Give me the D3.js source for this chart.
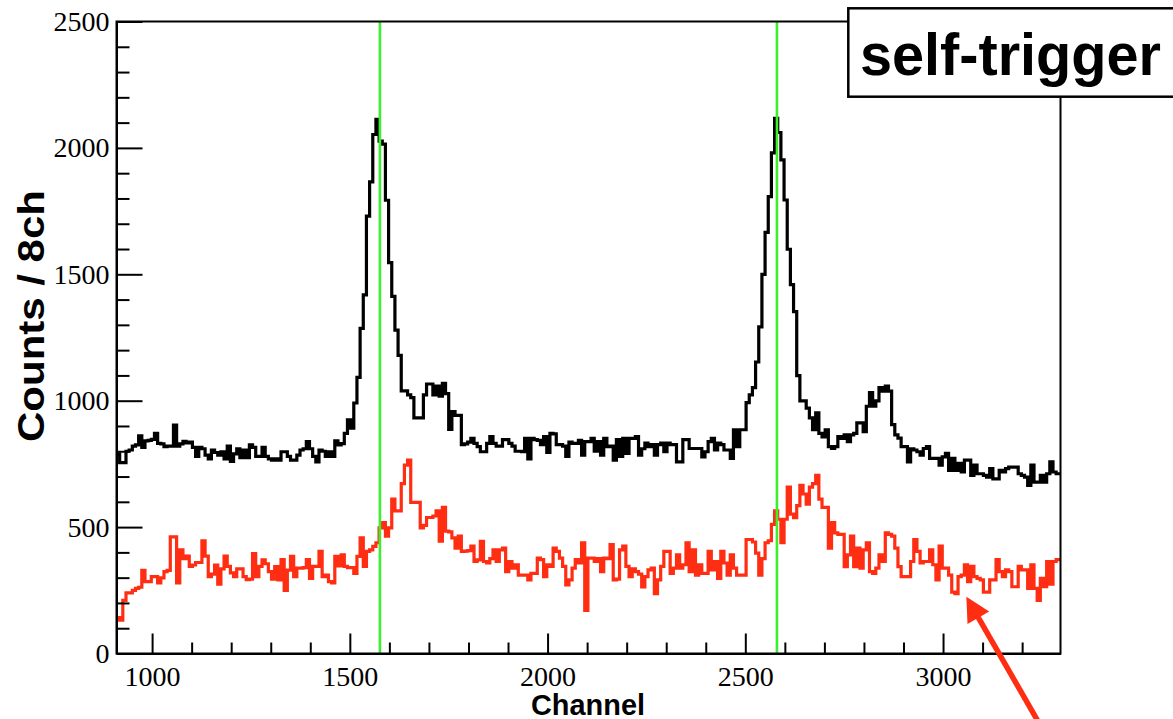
<!DOCTYPE html>
<html>
<head>
<meta charset="utf-8">
<script src="https://cdn.jsdelivr.net/npm/d3@7"></script>
<style>
  html, body { margin: 0; padding: 0; background: #ffffff; }
  svg { display: block; }
</style>
</head>
<body>
<svg id="chart" width="1173" height="719"></svg>
<script>
// Histogram binning: 8 channels per bin, first bin starts at channel 910
const binStart = 910;
const binWidth = 8;

// Black spectrum, counts per 8-channel bin
const blackCounts = [
  790,755,755,800,805,820,825,861,815,841, 843,847,871,831,829,818,820,820,903,820,
  829,839,833,836,815,780,815,810,785,770, 805,795,785,798,770,820,760,790,810,775,
  805,775,825,815,780,780,815,780,770,765,
  770,765,798,798,780,765,765,785,805,810, 838,810,780,758,805,800,780,798,780,841,
  825,830,871,924,891,991,1092,1286,1419,1730, 1866,2053,2113,2027,2015,1793,1546,1413,1279,1179,
  1039,1039,1023,1012,932,932,932,1023,1066,1066,
  1023,1058,1018,1069,1028,886,957,942,942,826, 829,836,851,831,818,798,798,831,858,831,
  820,820,846,846,831,820,800,800,798,851, 770,851,846,843,826,858,795,871,869,826,
  826,820,780,836,831,831,843,785,838,838,
  851,800,838,785,851,818,820,765,846,780, 851,792,851,851,858,785,810,832,818,826,
  785,826,832,798,832,826,826,758,758,846, 846,811,811,811,811,778,798,838,851,805,
  832,826,805,805,772,885,818,885,885,992,
  1023,1052,1153,1292,1500,1666,1807,1980,2117,2061, 1953,1794,1599,1459,1352,1099,999,999,971,932,
  885,952,871,857,885,818,811,818,858,851, 865,838,865,871,912,912,878,978,1032,978,
  999,1052,1038,1058,1038,905,865,852,818,818,
  758,810,805,798,785,811,818,772,772,772, 745,778,792,724,772,724,752,718,765,765,
  705,745,711,711,705,698,731,691,691,724, 718,731,737,737,737,711,705,698,665,745,
  678,678,705,678,711,758,718,711,711
];

// Red (self-trigger) spectrum, counts per 8-channel bin
const redCounts = [
  142,132,210,240,240,250,258,262,329,284, 284,304,304,279,299,324,329,461,461,279,
  410,375,385,345,350,360,360,446,385,304, 314,350,274,335,385,345,319,304,335,335,
  304,292,294,395,304,345,370,355,324,294,
  344,291,371,250,330,384,304,338,338,340, 371,297,345,345,404,304,310,284,279,384,
  347,390,345,340,340,317,384,457,345,404, 410,424,438,497,518,464,497,611,564,564,
  672,745,765,598,598,598,497,507,538,538,
  544,564,444,578,484,481,457,417,464,404, 405,407,425,364,370,444,364,358,375,410,
  364,410,417,324,364,338,351,310,310,310, 291,317,317,377,371,304,351,345,417,404,
  377,345,271,291,338,371,358,438,170,377,
  377,364,375,324,377,375,431,291,294,410, 425,345,304,335,324,314,263,304,331,338,
  237,291,345,404,404,317,338,390,338,351, 438,324,410,310,351,317,317,404,331,364,
  297,404,358,310,390,338,310,310,310,451,
  451,441,397,310,375,438,446,511,564,531, 438,531,658,551,537,585,665,631,591,658,
  672,705,611,578,578,417,518,477,471,471, 344,390,464,344,417,338,410,438,324,317,
  338,390,364,477,471,464,417,344,304,304,
  304,364,451,404,358,364,364,410,351,291, 425,338,338,310,243,237,304,310,351,284,
  345,304,297,291,243,243,291,291,371,324, 304,331,324,264,264,345,331,331,258,351,
  258,210,297,264,364,274,364,371,371
];

// Vertical marker channels (green lines)
const markerChannels = [1576, 2580];

// Axis ticks
const xMajorTicks = [1000, 1500, 2000, 2500, 3000];
const xMinorTicks = d3.range(1000, 3297, 100).filter(v => v % 500 !== 0);
const yMajorTicks = [0, 500, 1000, 1500, 2000, 2500];
const yMinorTicks = d3.range(0, 2501, 100).filter(v => v % 500 !== 0);

// Texts
const xTitle = "Channel";
const yTitle = "Counts / 8ch";
const boxLabel = "self-trigger";

// Arrow annotation pointing at the red spectrum (channel, counts)
const arrowTip = [3059, 224];

const svg = d3.select("#chart");

const x = d3.scaleLinear().domain([910, 3297]).range([116.5, 1060.5]);
const y = d3.scaleLinear().domain([0, 2500]).range([653.5, 21.5]);

const plotLeft = x.range()[0], plotRight = x.range()[1];
const plotTop = y.range()[1], plotBottom = y.range()[0];

svg.append("defs").append("clipPath").attr("id", "plotClip")
  .append("rect")
  .attr("x", plotLeft).attr("y", plotTop)
  .attr("width", plotRight - plotLeft).attr("height", plotBottom - plotTop);

// Step outline of a histogram
function stepPoints(counts) {
  const pts = counts.map((c, i) => [binStart + i * binWidth, c]);
  pts.push([binStart + counts.length * binWidth, counts[counts.length - 1]]);
  return pts;
}
const stepLine = d3.line()
  .x(d => x(d[0]))
  .y(d => y(d[1]))
  .curve(d3.curveStepAfter);

const plot = svg.append("g").attr("clip-path", "url(#plotClip)");

plot.append("path")
  .datum(stepPoints(blackCounts))
  .attr("d", stepLine)
  .attr("fill", "none")
  .attr("stroke", "#000000")
  .attr("stroke-width", 3.2)
  .attr("stroke-linejoin", "miter");

plot.append("path")
  .datum(stepPoints(redCounts))
  .attr("d", stepLine)
  .attr("fill", "none")
  .attr("stroke", "#ff2d12")
  .attr("stroke-width", 3.2)
  .attr("stroke-linejoin", "miter");

// Green markers
plot.selectAll("line.marker")
  .data(markerChannels)
  .enter().append("line")
  .attr("class", "marker")
  .attr("x1", d => x(d)).attr("x2", d => x(d))
  .attr("y1", plotTop).attr("y2", plotBottom)
  .attr("stroke", "#3cef2c")
  .attr("stroke-width", 2.6);

// Axes
const labelFont = "'Liberation Serif', 'Times New Roman', serif";
const plain = d3.format("d");

svg.append("g")
  .attr("transform", `translate(${plotLeft},0)`)
  .call(d3.axisLeft(y).tickValues(yMajorTicks).tickFormat(plain)
    .tickSize(-26).tickSizeOuter(0).tickPadding(7));
svg.append("g")
  .attr("transform", `translate(${plotLeft},0)`)
  .call(d3.axisLeft(y).tickValues(yMinorTicks).tickSize(-13).tickSizeOuter(0).tickFormat(""))
  .call(g => g.select(".domain").remove());

svg.append("g")
  .attr("transform", `translate(0,${plotBottom})`)
  .call(d3.axisBottom(x).tickValues(xMajorTicks).tickFormat(plain)
    .tickSize(-20).tickSizeOuter(0).tickPadding(13));
svg.append("g")
  .attr("transform", `translate(0,${plotBottom})`)
  .call(d3.axisBottom(x).tickValues(xMinorTicks).tickSize(-11).tickSizeOuter(0).tickFormat(""))
  .call(g => g.select(".domain").remove());

svg.selectAll(".tick line").attr("stroke", "#000").attr("stroke-width", 2);
svg.selectAll(".domain").attr("stroke", "#000").attr("stroke-width", 2);
svg.selectAll(".tick text")
  .attr("font-family", labelFont)
  .attr("font-size", 28)
  .attr("fill", "#000");

// Frame
svg.append("rect")
  .attr("x", plotLeft).attr("y", plotTop)
  .attr("width", plotRight - plotLeft).attr("height", plotBottom - plotTop)
  .attr("fill", "none").attr("stroke", "#000").attr("stroke-width", 2);

// Axis titles
const titleFont = "'Liberation Sans', Arial, Helvetica, sans-serif";
svg.append("text")
  .attr("x", 588).attr("y", 715)
  .attr("text-anchor", "middle")
  .attr("font-family", titleFont).attr("font-weight", "bold")
  .attr("font-size", 29)
  .attr("textLength", 114).attr("lengthAdjust", "spacingAndGlyphs")
  .text(xTitle);

svg.append("text")
  .attr("transform", "translate(43.5,316) rotate(-90)")
  .attr("text-anchor", "middle")
  .attr("font-family", titleFont).attr("font-weight", "bold")
  .attr("font-size", 36)
  .attr("textLength", 252).attr("lengthAdjust", "spacingAndGlyphs")
  .text(yTitle);

// Label box
const box = svg.append("g");
box.append("rect")
  .attr("x", 848.3).attr("y", 8.3)
  .attr("width", 400).attr("height", 88.4)
  .attr("fill", "#ffffff").attr("stroke", "#000").attr("stroke-width", 2.5);
box.append("text")
  .attr("x", 860).attr("y", 75)
  .attr("font-family", titleFont).attr("font-weight", "bold")
  .attr("font-size", 60)
  .attr("textLength", 301).attr("lengthAdjust", "spacingAndGlyphs")
  .attr("fill", "#000")
  .text(boxLabel);

// Arrow
const tipX = x(arrowTip[0]), tipY = y(arrowTip[1]);
const dir = [0.499, 0.867];
const headLen = 24, headHalf = 12.5;
const baseX = tipX + dir[0] * headLen, baseY = tipY + dir[1] * headLen;
const perp = [-dir[1], dir[0]];
svg.append("line")
  .attr("x1", baseX - dir[0] * 2).attr("y1", baseY - dir[1] * 2)
  .attr("x2", tipX + dir[0] * 180).attr("y2", tipY + dir[1] * 180)
  .attr("stroke", "#ff2d12").attr("stroke-width", 5.5);
svg.append("path")
  .attr("d", `M${tipX},${tipY}L${baseX + perp[0] * headHalf},${baseY + perp[1] * headHalf}L${baseX - perp[0] * headHalf},${baseY - perp[1] * headHalf}Z`)
  .attr("fill", "#ff2d12");
</script>
</body>
</html>
